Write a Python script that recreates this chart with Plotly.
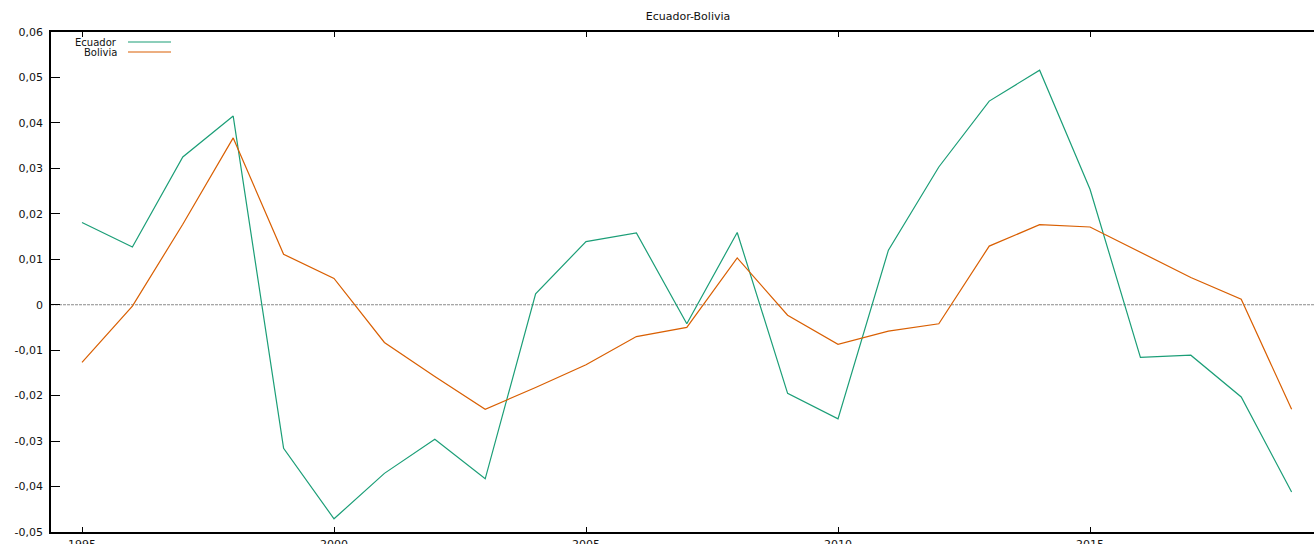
import plotly.graph_objects as go

# Yearly series
years = list(range(1995, 2020))

ecuador = [0.0181, 0.0127, 0.0325, 0.0415, -0.0316, -0.0471, -0.0371, -0.0296,
           -0.0383, 0.0024, 0.0139, 0.0158, -0.0042, 0.0159, -0.0195, -0.0251,
           0.0120, 0.0303, 0.0448, 0.0516, 0.0254, -0.0116, -0.0111, -0.0203,
           -0.0412]

bolivia = [-0.0127, -0.0003, 0.0177, 0.0367, 0.0111, 0.0058, -0.0083, -0.0158,
           -0.0230, -0.0182, -0.0132, -0.0070, -0.0050, 0.0103, -0.0023, -0.0087,
           -0.0058, -0.0042, 0.0129, 0.0176, 0.0171, 0.0116, 0.0060, 0.0012,
           -0.0230]

y_tick_vals = [-0.05, -0.04, -0.03, -0.02, -0.01, 0, 0.01, 0.02, 0.03, 0.04, 0.05, 0.06]
y_tick_text = ["-0,05", "-0,04", "-0,03", "-0,02", "-0,01", "0",
               "0,01", "0,02", "0,03", "0,04", "0,05", "0,06"]
x_tick_vals = [1995, 2000, 2005, 2010, 2015]

series_names = ["Ecuador", "Bolivia"]
series_colors = ["#1b9e77", "#d95f02"]

FONT = "DejaVu Sans"
FS = 11
TXT = "#111111"
W, H = 1314, 544
ML, MR, MT, MB = 51, 0, 32, 12

fig = go.Figure()

fig.add_trace(go.Scatter(x=years, y=ecuador, mode="lines", name=series_names[0],
                         line=dict(color=series_colors[0], width=1.2)))
fig.add_trace(go.Scatter(x=years, y=bolivia, mode="lines", name=series_names[1],
                         line=dict(color=series_colors[1], width=1.2)))

# zero axis (dashed)
fig.add_hline(y=0, line=dict(color="#8a8a8a", width=1.2, dash="3px,1px"), layer="below")

# key in the upper-left corner: label right-aligned, sample line to its right
plot_w = W - ML - MR
plot_h = H - MT - MB
key_rows = [42, 52]
for name, color, row in zip(series_names, series_colors, key_rows):
    yp = (H - MB - row) / plot_h
    fig.add_annotation(x=(119 - ML) / plot_w, y=yp, xref="paper", yref="paper",
                       text=name, showarrow=False, xanchor="right", yanchor="middle",
                       font=dict(family=FONT, size=10, color=TXT))
    fig.add_shape(type="line", xref="paper", yref="paper",
                  x0=(128 - ML) / plot_w, x1=(171 - ML) / plot_w, y0=yp, y1=yp,
                  line=dict(color=color, width=1.2))

fig.update_layout(
    width=W, height=H,
    margin=dict(l=ML, r=MR, t=MT, b=MB, autoexpand=False),
    paper_bgcolor="white", plot_bgcolor="white",
    showlegend=False,
    title=dict(text="Ecuador-Bolivia", x=688 / W, xref="container", xanchor="center",
               y=1 - 16 / H, yref="container", yanchor="middle",
               font=dict(family=FONT, size=FS, color=TXT)),
    font=dict(family=FONT, size=FS, color=TXT),
)

fig.update_xaxes(
    range=[1994.385, 2019.444],
    tickvals=x_tick_vals,
    ticks="inside", ticklen=5, tickwidth=1, tickcolor="#000000",
    showline=True, linecolor="#000000", linewidth=1.5, mirror="ticks",
    showgrid=False, zeroline=False, automargin=False,
    ticklabelstandoff=1,
    tickfont=dict(family=FONT, size=FS, color=TXT),
)
fig.update_yaxes(
    range=[-0.05, 0.06],
    tickvals=y_tick_vals, ticktext=y_tick_text,
    ticks="inside", ticklen=9, tickwidth=1, tickcolor="#000000",
    showline=True, linecolor="#000000", linewidth=1.5,
    showgrid=False, zeroline=False, automargin=False,
    ticklabelstandoff=4,
    tickfont=dict(family=FONT, size=FS, color=TXT),
)

fig.write_html("out.html")
